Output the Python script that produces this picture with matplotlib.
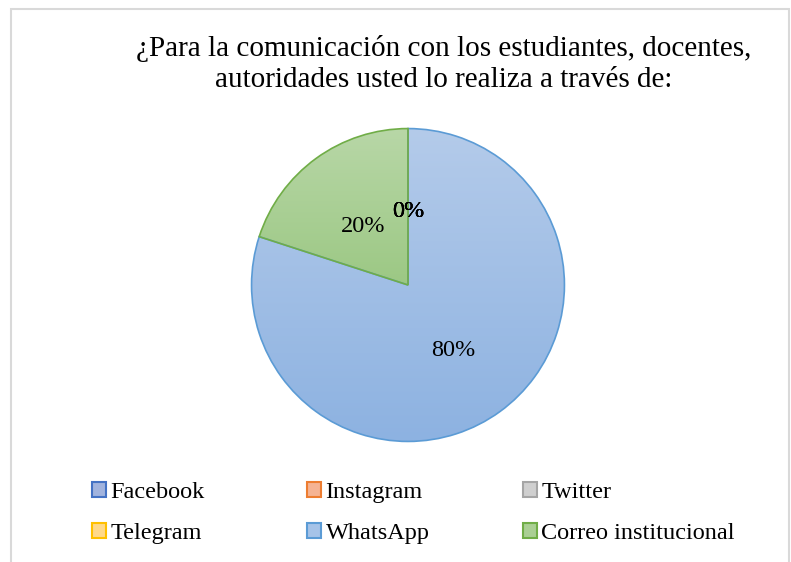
import numpy as np
import matplotlib.pyplot as plt
from matplotlib.patches import Rectangle, Patch
from matplotlib.colors import LinearSegmentedColormap

plt.rcParams['font.family'] = ['Liberation Serif', 'DejaVu Serif']

# datos
categorias = ['Facebook', 'Instagram', 'Twitter', 'Telegram', 'WhatsApp', 'Correo institucional']
valores = [0, 0, 0, 0, 80, 20]
bordes = ['#4472C4', '#ED7D31', '#A5A5A5', '#FFC000', '#5B9BD5', '#70AD47']
rellenos = ['#A1B3DE', '#F5B393', '#CFCFCF', '#FFD98A', '#A6C3E8', '#AACF94']
# degradado (arriba, abajo) de cada porción
degradados = [('#B3C2E6', '#8FA5D6'), ('#F8C3A8', '#F2A27C'), ('#D9D9D9', '#C3C3C3'),
              ('#FFE3A3', '#FFCF6B'), ('#B4CBEA', '#8DB2E1'), ('#B8D7A7', '#9CC884')]
titulo = '¿Para la comunicación con los estudiantes, docentes,\nautoridades usted lo realiza a través de:'

W, H = 791, 562
fig = plt.figure(figsize=(W / 100, H / 100), dpi=100)

# marco del gráfico
fig.patches.append(Rectangle((11 / W, -0.05), (789 - 11) / W, 1.05 - 9 / H,
                             transform=fig.transFigure, fill=False,
                             edgecolor='#D9D9D9', linewidth=1.5))

cx, cy, r = 408, 285, 158
ax = fig.add_axes([(cx - r) / W, (H - cy - r) / H, 2 * r / W, 2 * r / H])
wedges, texts, autotexts = ax.pie(valores, startangle=90, counterclock=False,
                                  colors=rellenos, autopct='%.0f%%', pctdistance=0.49,
                                  wedgeprops=dict(linewidth=1.2),
                                  textprops=dict(fontsize=17.5, color='black'))
grad = np.linspace(0, 1, 256).reshape(-1, 1)
for w, c, (c1, c2), v in zip(wedges, bordes, degradados, valores):
    w.set_edgecolor(c)
    if v == 0:
        continue
    ext = w.get_path().get_extents()
    cmap = LinearSegmentedColormap.from_list('g', [c1, c2])
    im = ax.imshow(grad, cmap=cmap, aspect='auto', origin='upper',
                   extent=(ext.x0, ext.x1, ext.y0, ext.y1), zorder=0.5)
    im.set_clip_path(w)
    w.set_facecolor('none')
    w.set_zorder(1)
for t in autotexts:
    t.set_zorder(3)
    x, y = t.get_position()
    t.set_position((x, y - 0.02))
ax.set_xlim(-1.01, 1.01)
ax.set_ylim(-1.01, 1.01)
ax.axis('off')

fig.text(443.5 / W, 1 - 64 / H, titulo, ha='center', va='center',
         fontsize=21, linespacing=1.28)

# leyenda en tres columnas
cols_x = [92, 307, 523]
for k in range(3):
    idx = [k, k + 3]
    handles = [Patch(facecolor=rellenos[i], edgecolor=bordes[i], linewidth=1.5) for i in idx]
    fig.legend(handles, [categorias[i] for i in idx], loc='upper left',
               bbox_to_anchor=(cols_x[k] / W, 1 - 482 / H), frameon=False,
               fontsize=17.5, handlelength=0.56, handleheight=0.56,
               handletextpad=0.2, labelspacing=0.84, borderpad=0, borderaxespad=0)

fig.savefig('out.png', dpi=100)
